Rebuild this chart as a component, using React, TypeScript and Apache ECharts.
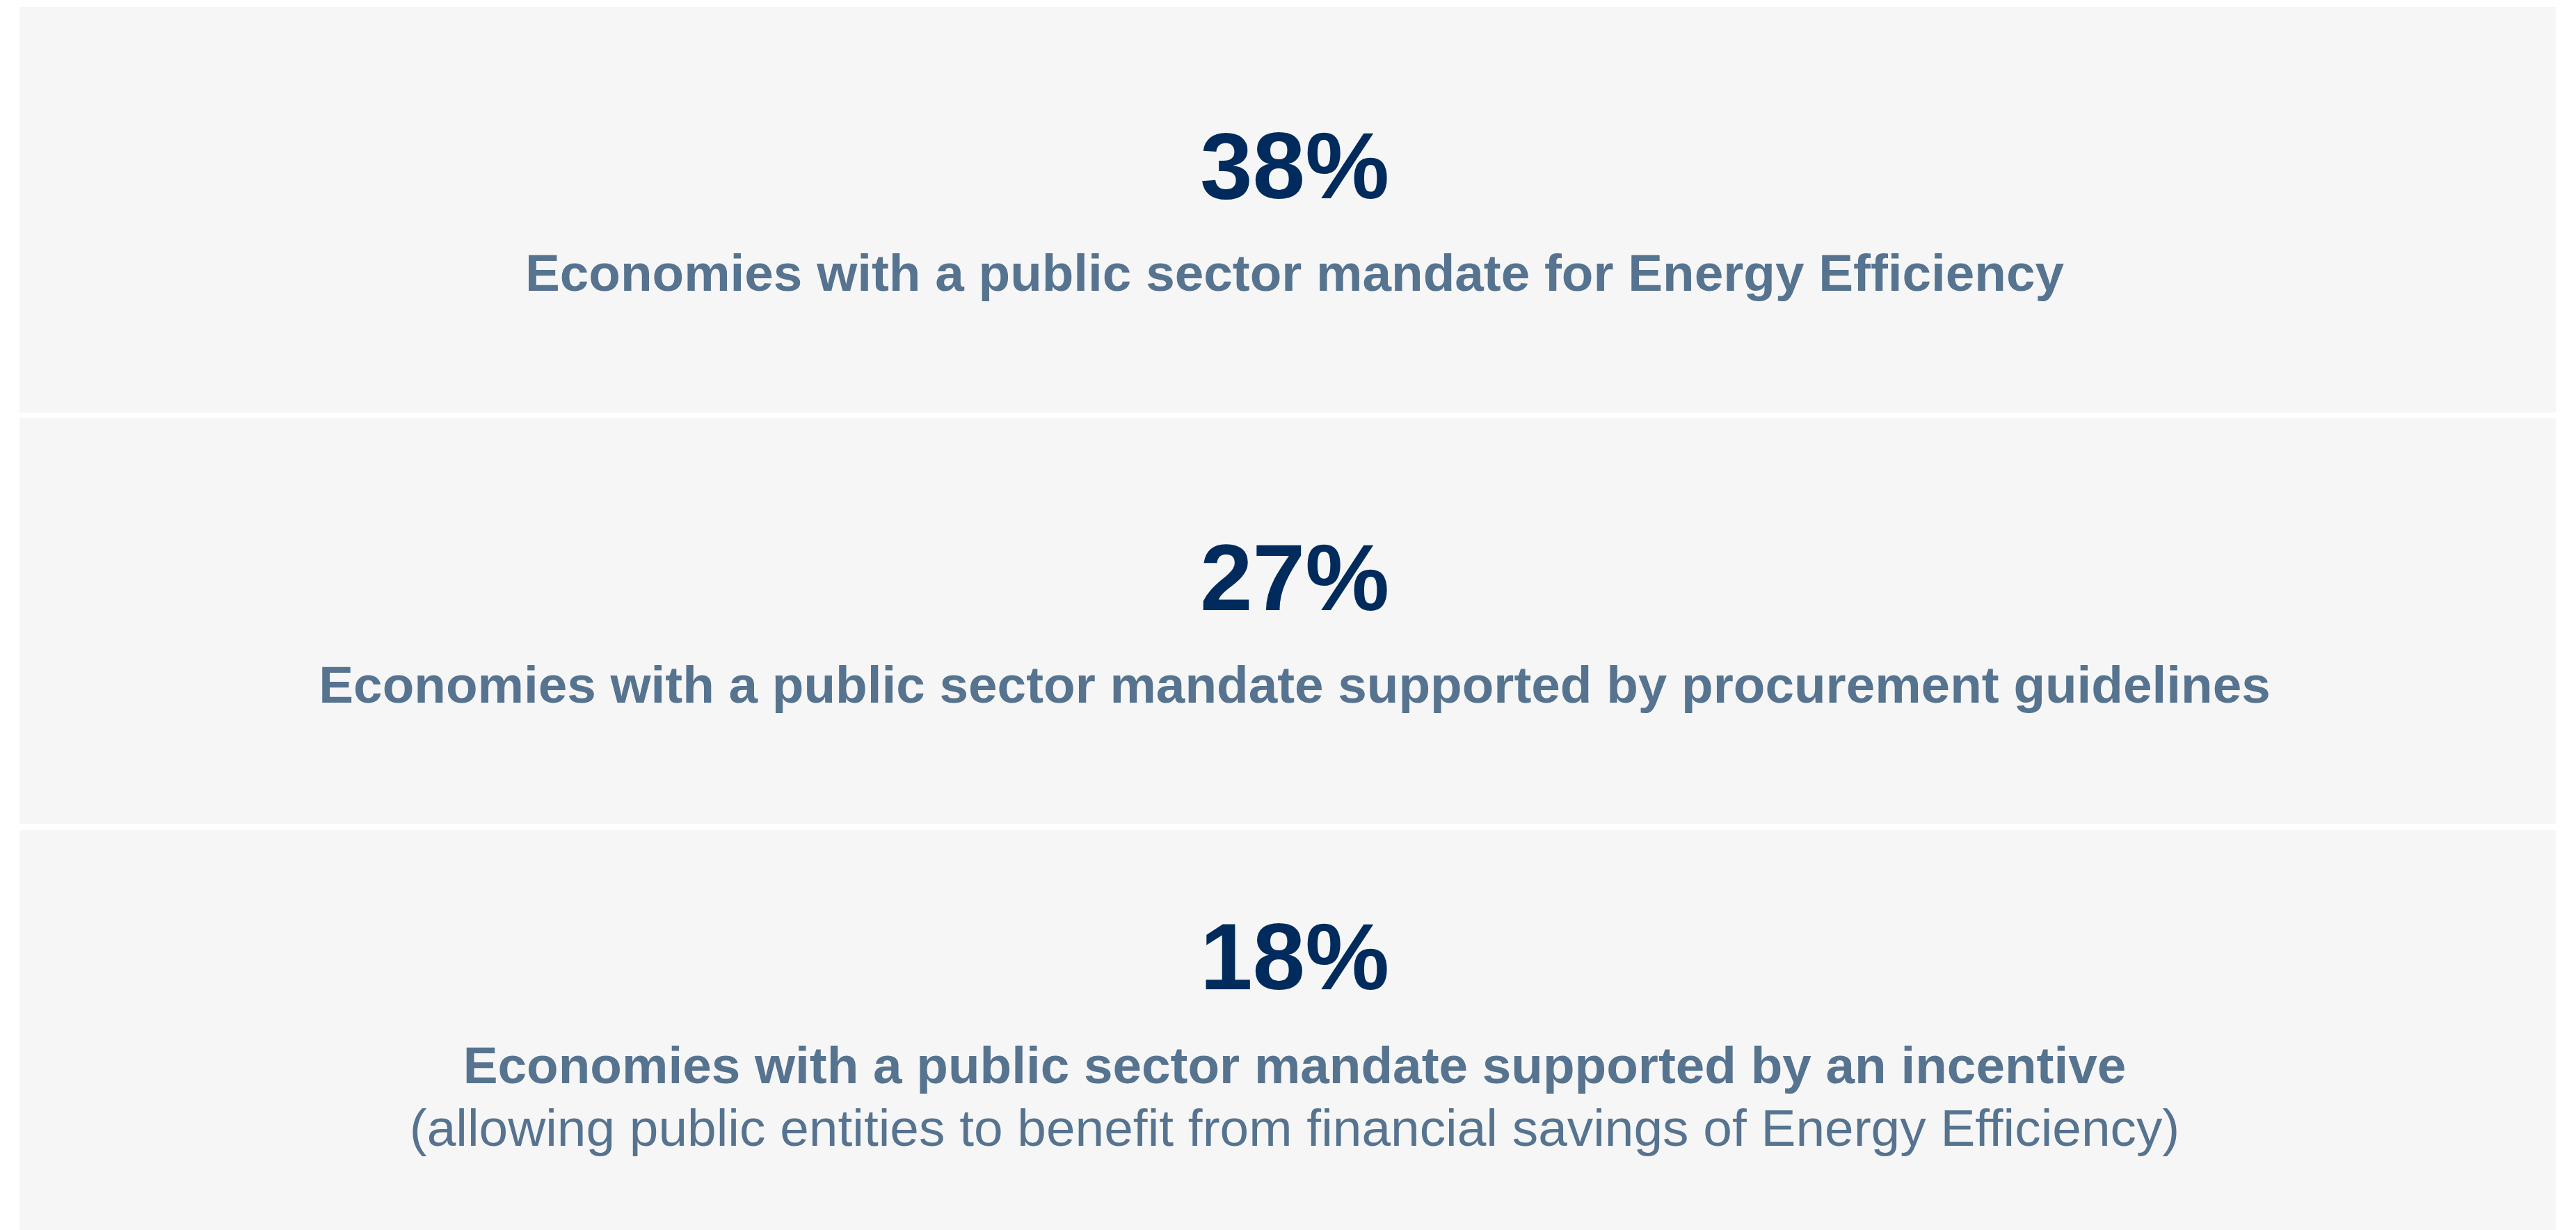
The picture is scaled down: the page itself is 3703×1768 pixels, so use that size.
import React, { useEffect, useRef } from "react";
import * as echarts from "echarts";

const values: number[] = [38, 27, 18];
const titles: string[] = [
  "Economies with a public sector mandate for Energy Efficiency",
  "Economies with a public sector mandate supported by procurement guidelines",
  "Economies with a public sector mandate supported by an incentive",
];
const notes: string[] = [
  "",
  "",
  "(allowing public entities to benefit from financial savings of Energy Efficiency)",
];

const W = 3703;
const H = 1768;

export default function App() {
  const ref = useRef<HTMLDivElement>(null);
  useEffect(() => {
    if (!ref.current) return;
    const chart = echarts.init(ref.current, undefined, { renderer: "svg" });
    const panels = [
      { y: 10, h: 583, pct: 238, sub: 392, note: 0 },
      { y: 601, h: 583, pct: 830, sub: 984, note: 0 },
      { y: 1193, h: 575, pct: 1375, sub: 1531, note: 1621 },
    ];
    const font = "'Liberation Sans', Arial, Helvetica, sans-serif";
    const cx = 1861;
    const elements: any[] = [];
    panels.forEach((p, i) => {
      elements.push({
        type: "rect",
        shape: { x: 28, y: p.y, width: 3646, height: p.h },
        style: { fill: "#f6f6f6" },
        silent: true,
      });
      elements.push({
        type: "text",
        x: cx,
        y: p.pct,
        style: {
          text: `${values[i]}%`,
          fill: "#002b5c",
          font: `bold 136px ${font}`,
          textAlign: "center",
          textVerticalAlign: "middle",
        },
      });
      elements.push({
        type: "text",
        x: cx,
        y: p.sub,
        style: {
          text: titles[i],
          fill: "#56738f",
          font: `bold 74.7px ${font}`,
          textAlign: "center",
          textVerticalAlign: "middle",
        },
      });
      if (notes[i]) {
        elements.push({
          type: "text",
          x: cx,
          y: p.note,
          style: {
            text: notes[i],
            fill: "#56738f",
            font: `normal 74.85px ${font}`,
            textAlign: "center",
            textVerticalAlign: "middle",
          },
        });
      }
    });
    chart.setOption({
      animation: false,
      backgroundColor: "#ffffff",
      graphic: { elements },
    });
    return () => chart.dispose();
  }, []);
  return (
    <div
      ref={ref}
      style={{ position: "fixed", left: 0, top: 0, width: W, height: H }}
    />
  );
}
